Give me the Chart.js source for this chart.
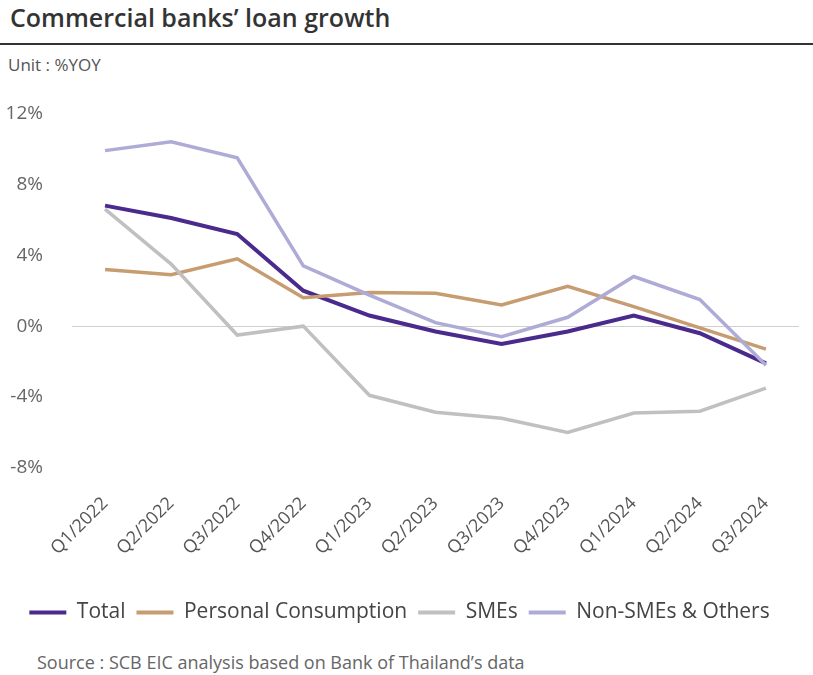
<!DOCTYPE html>
<html>
<head>
<meta charset="utf-8">
<script src="https://cdn.jsdelivr.net/npm/chart.js@4/dist/chart.umd.min.js"></script>
<style>
    body { margin: 0; background: #fff; font-family: "Open Sans", sans-serif; }
    #wrap { position: relative; width: 813px; height: 675px; overflow: hidden; }
    #title { position: absolute; left: 10px; top: 0px; font-size: 25px; font-weight: 600; color: #333; }
    #rule { position: absolute; left: 0; top: 43px; width: 813px; height: 2px; background: #333; }
    #unit { position: absolute; left: 8px; top: 53px; font-size: 17px; color: #555; }
    #source { position: absolute; left: 37px; top: 650px; font-size: 18px; color: #666; }
    #chartBox { position: absolute; left: 0; top: 73px; width: 813px; height: 560px; }
</style>
</head>
<body>
<div id="wrap">
    <div id="title">Commercial banks’ loan growth</div>
    <div id="rule"></div>
    <div id="unit">Unit : %YOY</div>
    <div id="chartBox"><canvas id="loanChart"></canvas></div>
    <div id="source">Source : SCB EIC analysis based on Bank of Thailand’s data</div>
</div>
<script>
// Quarters on the x axis
const quarters = ['Q1/2022', 'Q2/2022', 'Q3/2022', 'Q4/2022', 'Q1/2023', 'Q2/2023',
                  'Q3/2023', 'Q4/2023', 'Q1/2024', 'Q2/2024', 'Q3/2024'];

// Loan growth, %YOY
const total        = [6.8, 6.1, 5.2, 2.0, 0.6, -0.3, -1.0, -0.3, 0.6, -0.4, -2.1];
const personalCons = [3.2, 2.9, 3.8, 1.6, 1.9, 1.85, 1.2, 2.25, 1.1, -0.1, -1.3];
const smes         = [6.6, 3.5, -0.5, 0.0, -3.9, -4.85, -5.2, -6.0, -4.9, -4.8, -3.5];
const nonSmes      = [9.9, 10.4, 9.5, 3.4, 1.75, 0.2, -0.6, 0.5, 2.8, 1.5, -2.2];

const yTicks = [-8, -4, 0, 4, 8, 12];

function lineSet(label, data, color, width) {
    return {
        label: label,
        data: data,
        borderColor: color,
        backgroundColor: color,
        borderWidth: width,
        pointRadius: 0,
        tension: 0,
        fill: false
    };
}

const ctx = document.getElementById('loanChart').getContext('2d');

new Chart(ctx, {
    type: 'line',
    data: {
        labels: quarters,
        // drawn back to front so Total sits on top
        datasets: [
            lineSet('Total', total, '#4a2a8c', 4),
            lineSet('Personal Consumption', personalCons, '#c69c70', 3.5),
            lineSet('SMEs', smes, '#c0c0c0', 3.5),
            lineSet('Non-SMEs & Others', nonSmes, '#aeabd6', 3.5)
        ].reverse()
    },
    options: {
        responsive: true,
        maintainAspectRatio: false,
        animation: false,
        layout: { padding: { left: 0, right: 14, top: 8, bottom: 0 } },
        plugins: {
            tooltip: { enabled: false },
            legend: {
                position: 'bottom',
                reverse: true,
                labels: {
                    boxWidth: 37,
                    boxHeight: 4,
                    padding: 11,
                    color: '#444',
                    font: { family: 'Open Sans', size: 21 },
                    generateLabels: function(chart) {
                        const items = Chart.defaults.plugins.legend.labels.generateLabels(chart);
                        items.forEach(item => {
                            item.fillStyle = item.strokeStyle;
                            item.lineWidth = 0;
                        });
                        return items;
                    }
                }
            }
        },
        scales: {
            x: {
                offset: true,
                grid: { display: false },
                border: { display: false },
                afterFit: axis => { axis.height = 123; },
                ticks: {
                    minRotation: 45,
                    maxRotation: 45,
                    padding: 17,
                    color: '#555',
                    font: { family: 'Open Sans', size: 18 }
                }
            },
            y: {
                min: -8,
                max: 12,
                afterBuildTicks: axis => { axis.ticks = yTicks.map(v => ({ value: v })); },
                afterFit: axis => { axis.width = 72; },
                border: { display: false },
                grid: {
                    drawTicks: false,
                    color: c => c.tick && c.tick.value === 0 ? '#d0d0d0' : 'rgba(0,0,0,0)',
                    lineWidth: 1
                },
                ticks: {
                    padding: 29,
                    color: '#666',
                    font: { family: 'Open Sans', size: 19 },
                    callback: v => v + '%'
                }
            }
        }
    }
});
</script>
</body>
</html>
